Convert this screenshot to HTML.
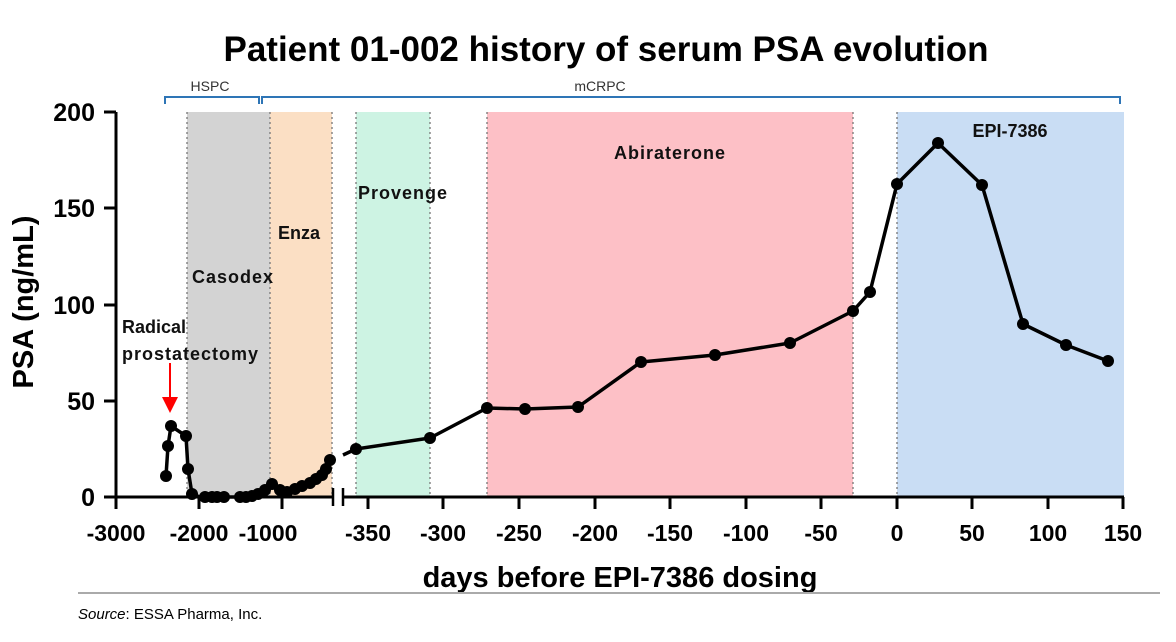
<!DOCTYPE html>
<html><head><meta charset="utf-8"><style>
body{margin:0;background:#fff;}
svg{display:block;font-family:"Liberation Sans",Arial,sans-serif;}
</style></head><body>
<svg width="1176" height="642" viewBox="0 0 1176 642" xmlns="http://www.w3.org/2000/svg">
<text x="606" y="61" text-anchor="middle" font-size="35" font-weight="bold">Patient 01-002 history of serum PSA evolution</text>
<g fill="none" stroke="#2e75b6" stroke-width="2">
<path d="M165,104 V97 H259 V104"/>
<path d="M262,104 V97 H1120 V104"/>
</g>
<text x="210" y="91" text-anchor="middle" font-size="14" fill="#333">HSPC</text>
<text x="600" y="91" text-anchor="middle" font-size="14" fill="#333">mCRPC</text>
<rect x="187" y="112" width="83" height="385" fill="#d3d3d3"/>
<rect x="270" y="112" width="62" height="385" fill="#fbdfc4"/>
<rect x="356" y="112" width="74" height="385" fill="#cdf3e3"/>
<rect x="487" y="112" width="366" height="385" fill="#fdc0c6"/>
<rect x="897" y="112" width="227" height="385" fill="#c9ddf4"/>
<g stroke="#777" stroke-width="1.3" stroke-dasharray="2,3">
<line x1="187" y1="112" x2="187" y2="497"/><line x1="270" y1="112" x2="270" y2="497"/>
<line x1="332" y1="112" x2="332" y2="497"/><line x1="356" y1="112" x2="356" y2="497"/>
<line x1="430" y1="112" x2="430" y2="497"/><line x1="487" y1="112" x2="487" y2="497"/>
<line x1="853" y1="112" x2="853" y2="497"/><line x1="897" y1="112" x2="897" y2="497"/>
</g>
<g font-weight="bold" font-size="18" fill="#111">
<text x="192" y="283" letter-spacing="1">Casodex</text>
<text x="278" y="239">Enza</text>
<text x="358" y="199" letter-spacing="1">Provenge</text>
<text x="670" y="159" text-anchor="middle" letter-spacing="1">Abiraterone</text>
<text x="1010" y="137" text-anchor="middle">EPI-7386</text>
<text x="122" y="333">Radical</text>
<text x="122" y="360" letter-spacing="1">prostatectomy</text>
</g>
<line x1="170" y1="363" x2="170" y2="398" stroke="#f00" stroke-width="2"/>
<polygon points="162,397 178,397 170,413" fill="#f00"/>
<g stroke="#000" stroke-width="3" fill="none">
<path d="M116,112 V497 H333"/>
<path d="M343,497 H1124"/>
<path d="M104,112 H116 M104,208 H116 M104,305 H116 M104,401 H116 M104,497 H116"/>
<path d="M116,497 V509 M199,497 V509 M282,497 V509"/>
<path d="M368,497 V509 M443,497 V509 M519,497 V509 M595,497 V509 M670,497 V509 M746,497 V509 M821,497 V509 M897,497 V509 M972,497 V509 M1048,497 V509 M1123,497 V509"/>
<path d="M333,488 V506 M343,488 V506" stroke-width="2.5"/>
</g>
<g font-weight="bold" font-size="25" text-anchor="end">
<text x="95" y="121">200</text><text x="95" y="217">150</text><text x="95" y="314">100</text><text x="95" y="410">50</text><text x="95" y="506">0</text>
</g>
<g font-weight="bold" font-size="23" text-anchor="middle">
<text x="116" y="541">-3000</text><text x="199" y="541">-2000</text><text x="268" y="541">-1000</text>
<text x="368" y="541">-350</text><text x="443" y="541">-300</text><text x="519" y="541">-250</text><text x="595" y="541">-200</text>
<text x="670" y="541">-150</text><text x="746" y="541">-100</text><text x="821" y="541">-50</text><text x="897" y="541">0</text>
<text x="972" y="541">50</text><text x="1048" y="541">100</text><text x="1123" y="541">150</text>
</g>
<text x="620" y="587" text-anchor="middle" font-weight="bold" font-size="29">days before EPI-7386 dosing</text>
<text transform="translate(33,302) rotate(-90)" text-anchor="middle" font-weight="bold" font-size="29">PSA (ng/mL)</text>
<g stroke="#000" stroke-width="3.5" fill="none" stroke-linejoin="round">
<polyline points="166,476 168,446 171,426 186,436 188,469 192,494 200,497 210,497 220,497 240,497 250,497 265,490 272,484 280,490 290,492 300,488 310,484 320,478 325,472 330,460"/>
<polyline points="343,455 356,449 430,438 487,408 525,409 578,407 641,362 715,355 790,343 853,311 870,292 897,184 938,143 982,185 1023,324 1066,345 1108,361"/>
</g>
<g fill="#000">
<circle cx="166" cy="476" r="6"/><circle cx="168" cy="446" r="6"/><circle cx="171" cy="426" r="6"/><circle cx="186" cy="436" r="6"/><circle cx="188" cy="469" r="6"/><circle cx="192" cy="494" r="6"/>
<circle cx="205" cy="497" r="6"/><circle cx="212" cy="497" r="6"/><circle cx="217" cy="497" r="6"/><circle cx="224" cy="497" r="6"/>
<circle cx="240" cy="497" r="6"/><circle cx="246" cy="497" r="6"/><circle cx="252" cy="496" r="6"/><circle cx="258" cy="494" r="6"/>
<circle cx="265" cy="490" r="6"/><circle cx="272" cy="484" r="6"/><circle cx="280" cy="490" r="6"/><circle cx="287" cy="492" r="6"/>
<circle cx="295" cy="489" r="6"/><circle cx="302" cy="486" r="6"/><circle cx="310" cy="483" r="6"/><circle cx="316" cy="479" r="6"/>
<circle cx="322" cy="475" r="6"/><circle cx="326" cy="469" r="6"/><circle cx="330" cy="460" r="6"/>
<circle cx="356" cy="449" r="6"/><circle cx="430" cy="438" r="6"/><circle cx="487" cy="408" r="6"/><circle cx="525" cy="409" r="6"/>
<circle cx="578" cy="407" r="6"/><circle cx="641" cy="362" r="6"/><circle cx="715" cy="355" r="6"/><circle cx="790" cy="343" r="6"/>
<circle cx="853" cy="311" r="6"/><circle cx="870" cy="292" r="6"/><circle cx="897" cy="184" r="6"/><circle cx="938" cy="143" r="6"/>
<circle cx="982" cy="185" r="6"/><circle cx="1023" cy="324" r="6"/><circle cx="1066" cy="345" r="6"/><circle cx="1108" cy="361" r="6"/>
</g>
<line x1="78" y1="593" x2="1160" y2="593" stroke="#aaa" stroke-width="2"/>
<text x="78" y="619" font-size="15"><tspan font-style="italic">Source</tspan>: ESSA Pharma, Inc.</text>
</svg>
</body></html>
